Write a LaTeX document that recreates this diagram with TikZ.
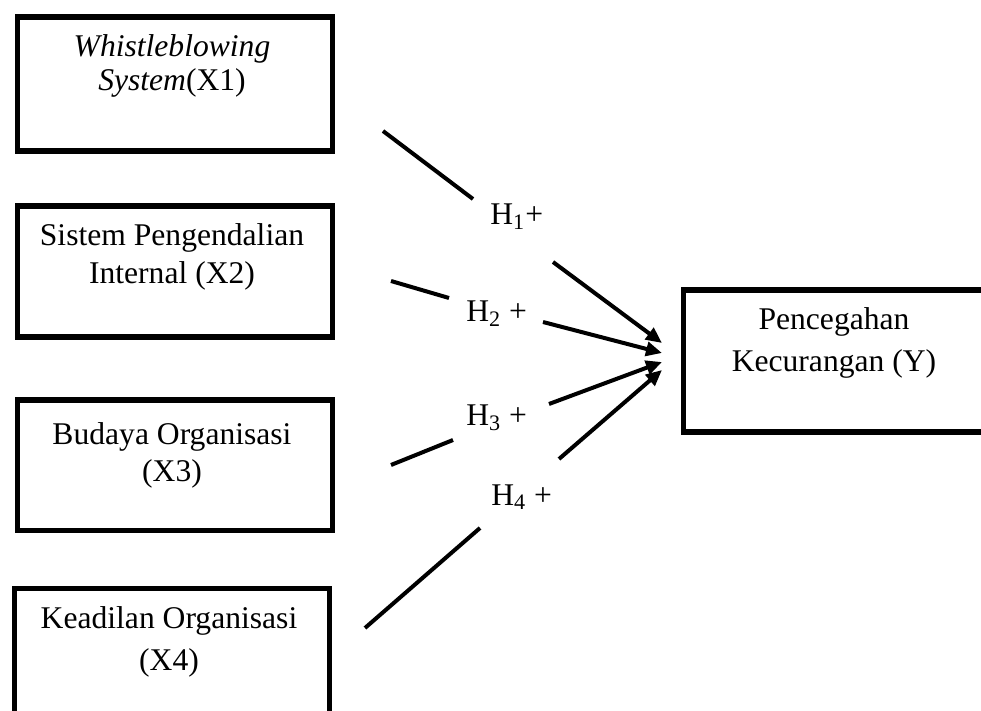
\documentclass[tikz,border=0pt]{standalone}
\usepackage{fontspec}
\setmainfont{Liberation Serif}
\usetikzlibrary{arrows.meta,positioning}

\begin{document}
\begin{tikzpicture}[x=0.5pt,y=-0.5pt,>={Triangle[length=8pt,width=7pt]},
  box/.style={draw,line width=2.6pt,inner sep=0pt,anchor=north west},
  txt/.style={font=\fontsize{15.8}{18}\selectfont,align=center,anchor=base,inner sep=0pt},
  hyp/.style={font=\fontsize{15.8}{18}\selectfont,anchor=base west,inner sep=0pt},
  link/.style={line width=2pt}]

\useasboundingbox (0,0) rectangle (981,711);

% variabel X
\node[box,minimum width=157.5pt,minimum height=67pt] (x1) at (14.5,14.5) {};
\node[txt] (x1t) at (172,91) {\textit{Whistleblowing}\\[-1pt]\textit{System}(X1)};

\node[box,minimum width=157.5pt,minimum height=65.5pt] (x2) at (14.5,203.5) {};
\node[txt] (x2t) at (172,284) {Sistem Pengendalian\\[1pt]Internal (X2)};

\node[box,minimum width=157.5pt,minimum height=65pt] (x3) at (14.5,397.5) {};
\node[txt] (x3t) at (172,481) {Budaya Organisasi\\[0.5pt](X3)};

\node[box,minimum width=157.5pt,minimum height=67pt] (x4) at (11.5,585.5) {};
\node[txt] (x4t) at (169,670) {Keadilan Organisasi\\[3pt](X4)};

% variabel Y
\node[box,minimum width=153.75pt,minimum height=71pt] (y) at (680.5,287.5) {};
\node[txt] (yt) at (834,372) {Pencegahan\\[3pt]Kecurangan (Y)};

% hipotesis
\coordinate (h1a) at (383,131); \coordinate (h1b) at (473,199);
\coordinate (h1c) at (553,262); \coordinate (h1d) at (662,343);
\draw[link] (h1a) -- (h1b);
\draw[link,->] (h1c) -- (h1d);
\node[hyp] (h1) at (490,225) {H\textsubscript{1}+};

\coordinate (h2a) at (391,281); \coordinate (h2b) at (449,298);
\coordinate (h2c) at (543,322); \coordinate (h2d) at (662,353);
\draw[link] (h2a) -- (h2b);
\draw[link,->] (h2c) -- (h2d);
\node[hyp] (h2) at (466,322) {H\textsubscript{2} +};

\coordinate (h3a) at (391,465); \coordinate (h3b) at (453,440);
\coordinate (h3c) at (549,404); \coordinate (h3d) at (662,362);
\draw[link] (h3a) -- (h3b);
\draw[link,->] (h3c) -- (h3d);
\node[hyp] (h3) at (466,426) {H\textsubscript{3} +};

\coordinate (h4a) at (365,628); \coordinate (h4b) at (480,528);
\coordinate (h4c) at (559,459); \coordinate (h4d) at (662,370);
\draw[link] (h4a) -- (h4b);
\draw[link,->] (h4c) -- (h4d);
\node[hyp] (h4) at (491,505) {H\textsubscript{4} +};

\end{tikzpicture}
\end{document}
